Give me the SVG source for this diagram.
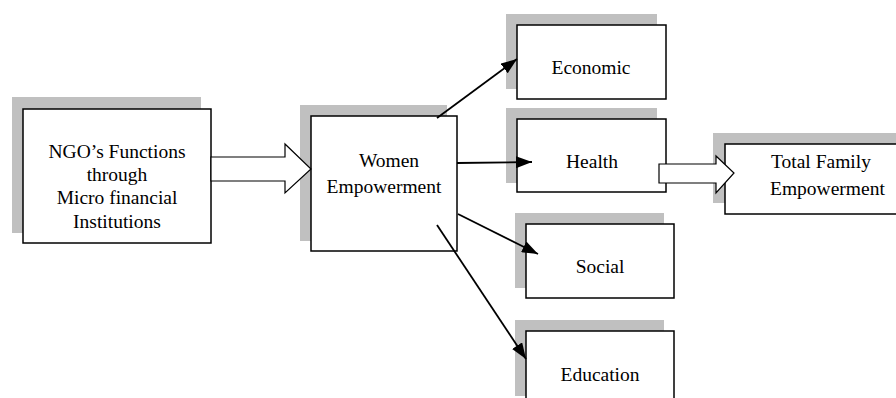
<svg xmlns="http://www.w3.org/2000/svg" width="896" height="398" viewBox="0 0 896 398">
<style>
.shadow{fill:#c0c0c0;stroke:none}
.box{fill:#fff;stroke:#000;stroke-width:1.5}
.t{font-family:"Liberation Serif","Times New Roman",serif;font-size:19.5px;fill:#000;text-anchor:middle}
.conn{stroke:#000;stroke-width:1.8;fill:none}
.block{fill:#fff;stroke:#000;stroke-width:1.2}
</style>
<defs>
<marker id="ah" markerUnits="userSpaceOnUse" markerWidth="16" markerHeight="12" refX="16" refY="6" orient="auto">
<path d="M0,0 L16,6 L0,12 Z" fill="#000"/>
</marker>
</defs>
<rect width="896" height="398" fill="#fff"/>
<g id="ngo">
<rect class="shadow" x="12" y="97" width="189" height="136"/>
<rect class="box" x="23" y="109" width="188" height="134"/>
<text class="t" x="117" y="158">NGO’s Functions</text>
<text class="t" x="117" y="181">through</text>
<text class="t" x="117" y="204">Micro financial</text>
<text class="t" x="117" y="228">Institutions</text>
</g>
<g id="women">
<rect class="shadow" x="300" y="105" width="147" height="136"/>
<rect class="box" x="311" y="116" width="146" height="135"/>
<text class="t" x="389" y="167">Women</text>
<text class="t" x="384" y="193">Empowerment</text>
</g>
<g id="economic">
<rect class="shadow" x="506" y="14" width="151" height="75"/>
<rect class="box" x="517" y="25" width="149" height="74"/>
<text class="t" x="591" y="74">Economic</text>
</g>
<g id="health">
<rect class="shadow" x="506" y="108" width="151" height="75"/>
<rect class="box" x="517" y="119" width="149" height="73"/>
<text class="t" x="592" y="168">Health</text>
</g>
<g id="social">
<rect class="shadow" x="515" y="213" width="149" height="75"/>
<rect class="box" x="526" y="224" width="148" height="74"/>
<text class="t" x="600" y="273">Social</text>
</g>
<g id="education">
<rect class="shadow" x="515" y="320" width="149" height="76"/>
<rect class="box" x="526" y="331" width="148" height="80"/>
<text class="t" x="600" y="381">Education</text>
</g>
<g id="total">
<rect class="shadow" x="713" y="133" width="200" height="70"/>
<rect class="box" x="725" y="144" width="190" height="70"/>
<text class="t" x="771" y="168" style="text-anchor:start">Total Family</text>
<text class="t" x="770" y="195" style="text-anchor:start">Empowerment</text>
</g>
<g id="connectors">
<polygon class="block" points="211,157 285,157 285,144 311,169 285,193 285,181 211,181"/>
<polygon class="block" points="659,164 716,164 716,156 734,173 716,193 716,183 659,183"/>
<line class="conn" x1="437" y1="118" x2="517" y2="59" marker-end="url(#ah)"/>
<line class="conn" x1="457" y1="163" x2="532" y2="162" marker-end="url(#ah)"/>
<line class="conn" x1="458" y1="214" x2="538" y2="254" marker-end="url(#ah)"/>
<line class="conn" x1="437" y1="225" x2="526" y2="359" marker-end="url(#ah)"/>
</g>
</svg>
